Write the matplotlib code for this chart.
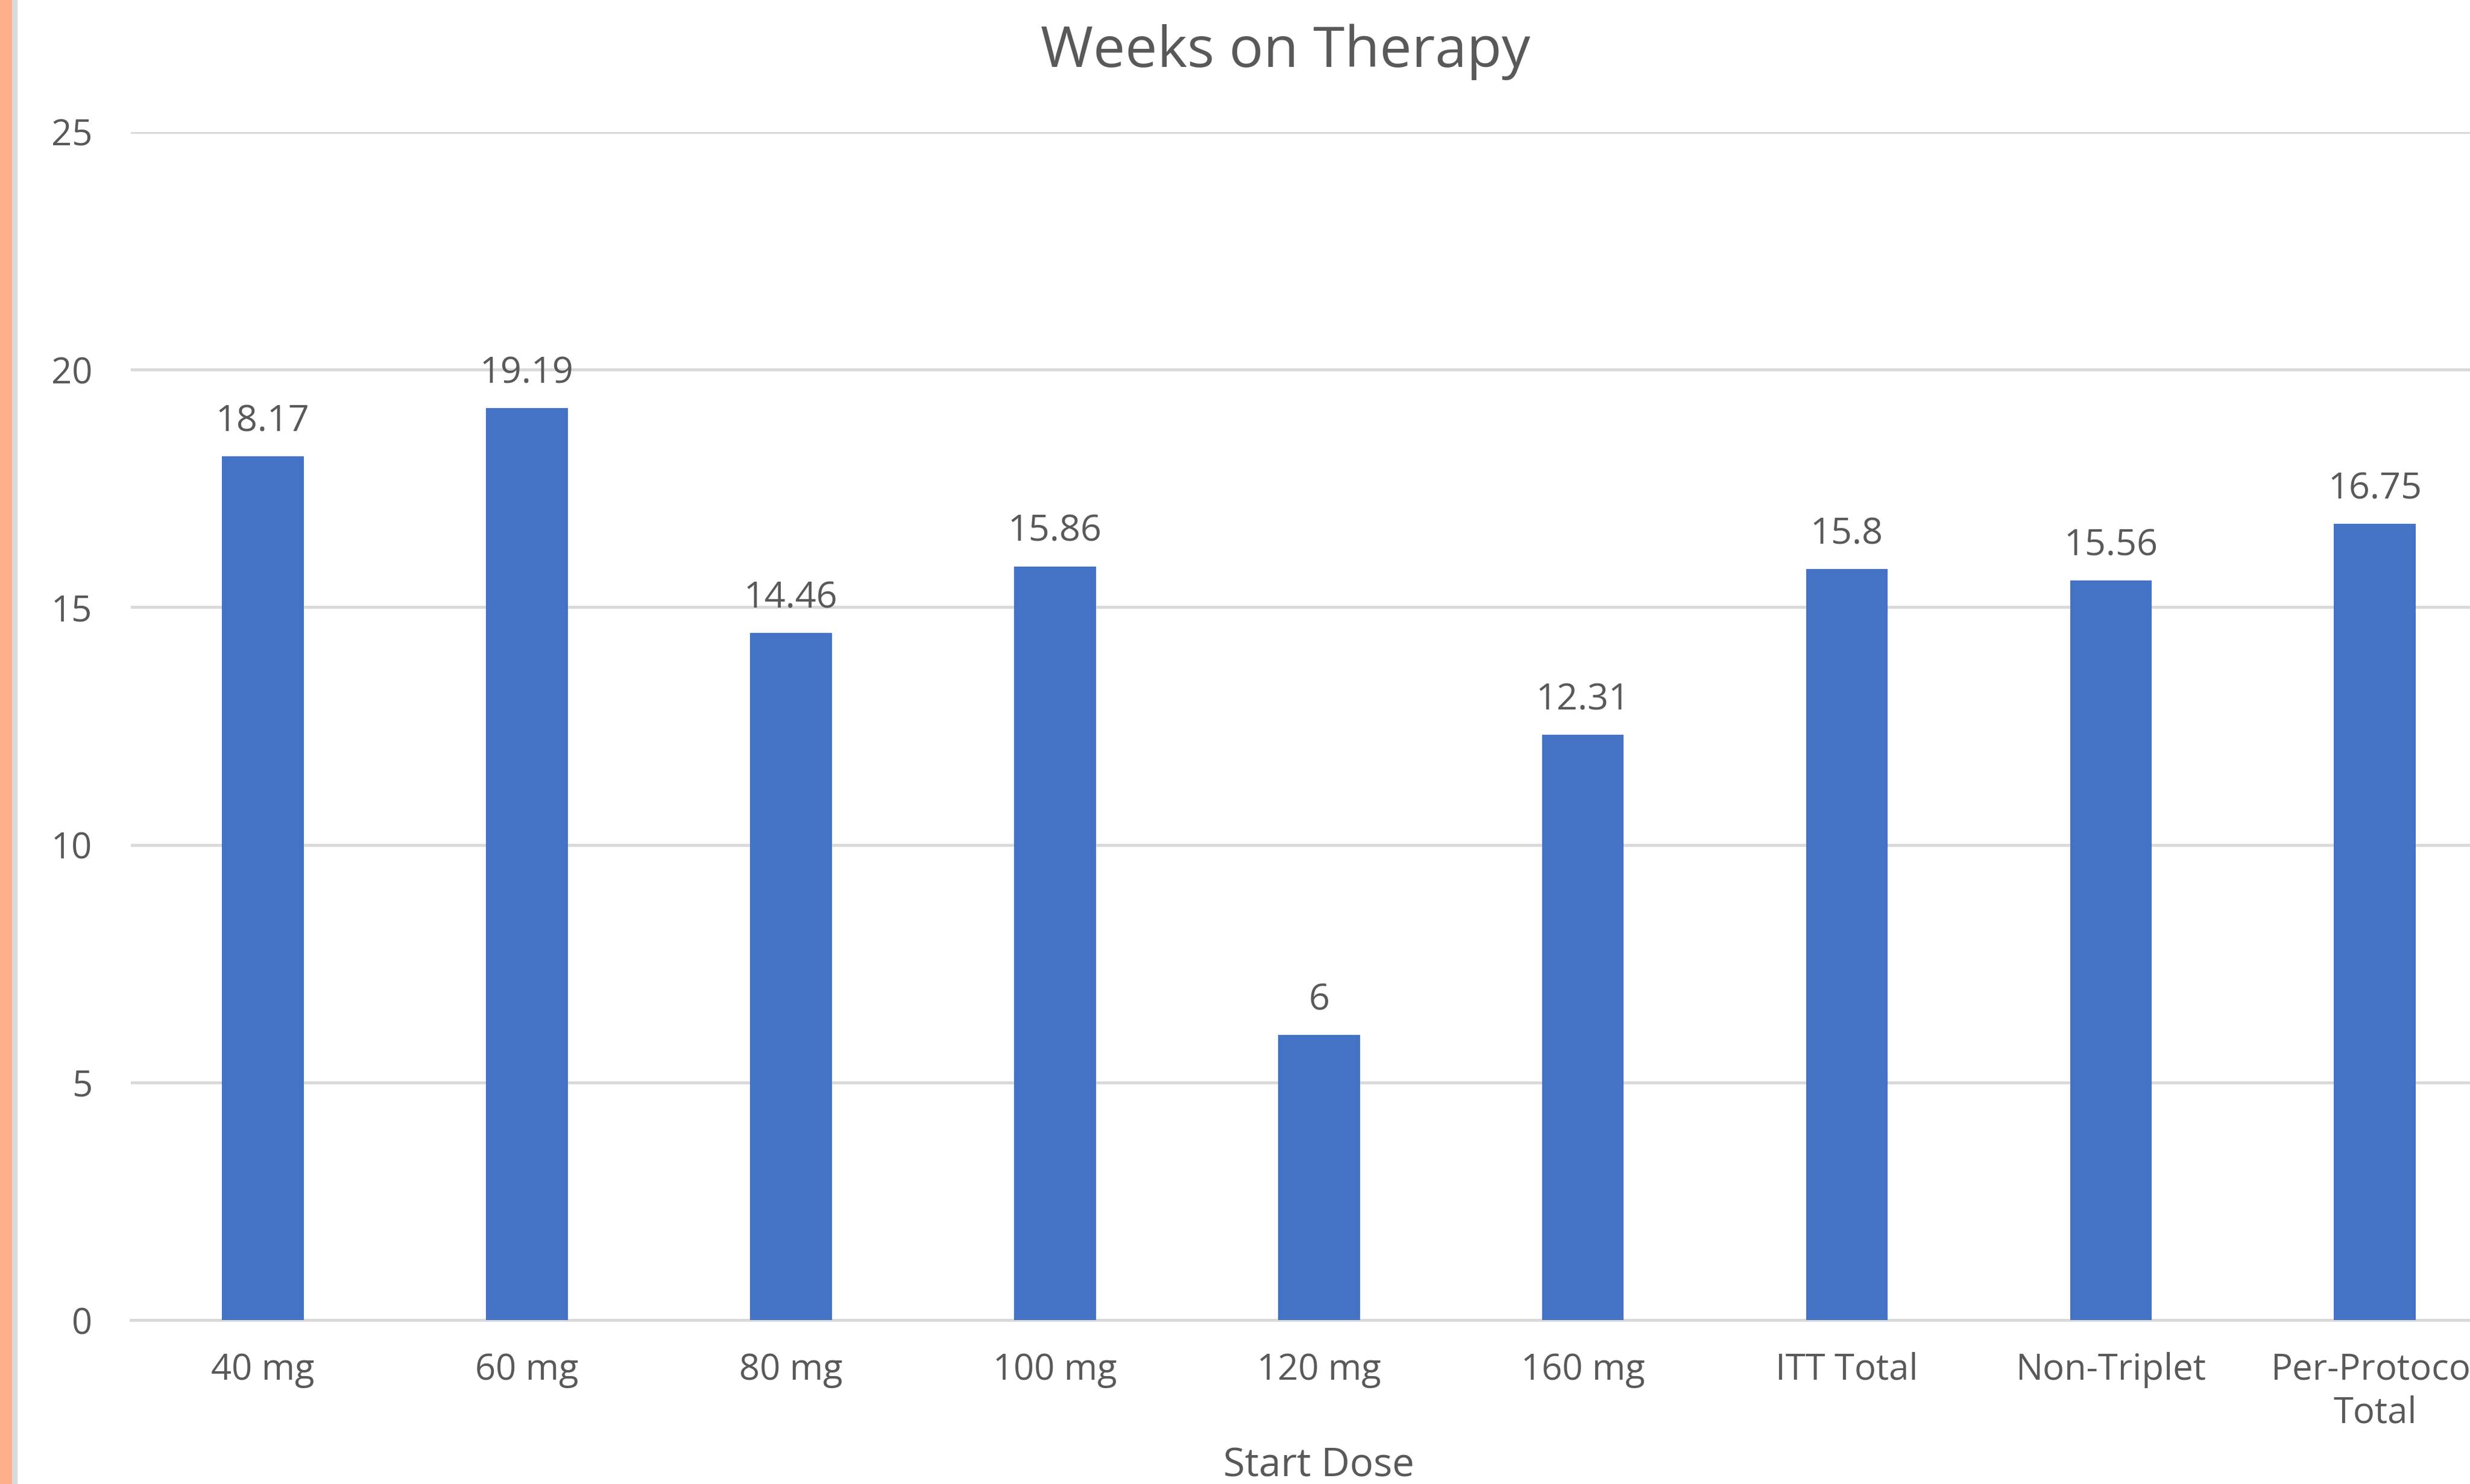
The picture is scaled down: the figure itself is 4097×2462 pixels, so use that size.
import matplotlib.pyplot as plt
import matplotlib.transforms as mtransforms

categories = ["40 mg", "60 mg", "80 mg", "100 mg", "120 mg", "160 mg",
              "ITT Total", "Non-Triplet", "Per-Protocol\nTotal"]
weeks = [18.17, 19.19, 14.46, 15.86, 6, 12.31, 15.8, 15.56, 16.75]
value_labels = ["18.17", "19.19", "14.46", "15.86", "6", "12.31", "15.8", "15.56", "16.75"]
y_ticks = [0, 5, 10, 15, 20, 25]

text_color = "#595959"
bar_color = "#4472C4"
grid_color = "#D9D9D9"

plt.rcParams["font.family"] = ["Open Sans", "DejaVu Sans"]

fig = plt.figure(figsize=(40.97, 24.62), dpi=100)
fig.patches.append(plt.Rectangle((0, 0), 20 / 4097, 1, transform=fig.transFigure,
                                 color="#FFB08A", zorder=0))
fig.patches.append(plt.Rectangle((20 / 4097, 0), 8 / 4097, 1, transform=fig.transFigure,
                                 color="#DADADA", zorder=0))

# plot area runs off the right edge of the picture, like the reference crop
ax = fig.add_axes([217 / 4097, 1 - 2190 / 2462, 1 - 217 / 4097, (2190 - 219) / 2462])
x = list(range(len(categories)))
bars = ax.bar(x, weeks, width=0.31, color=bar_color, zorder=3)

ax.set_xlim(-0.5, 8.36)
ax.set_ylim(0, 25)
ax.set_yticks(y_ticks)
ax.set_xticks(x)
ax.set_xticklabels(categories, linespacing=1.25)
ax.grid(axis="y", color=grid_color, linewidth=3.5, zorder=0)
ax.tick_params(axis="both", length=0, labelsize=43, colors=text_color)
ax.tick_params(axis="y", pad=46)
ax.tick_params(axis="x", pad=38)
for s in ["top", "right", "left"]:
    ax.spines[s].set_visible(False)
ax.spines["bottom"].set_color(grid_color)
ax.spines["bottom"].set_linewidth(3.5)

for rect, lab in zip(bars, value_labels):
    ax.annotate(lab, (rect.get_x() + rect.get_width() / 2, rect.get_height()),
                xytext=(0, 20), textcoords="offset points", ha="center", va="bottom",
                fontsize=44, color=text_color)

trans = mtransforms.blended_transform_factory(ax.transData, fig.transFigure)
ax.text(4, 1 - 2433 / 2462, "Start Dose", transform=trans, ha="center", va="center",
        fontsize=47, color=text_color)

fig.text(2132 / 4097, 1 - 86 / 2462, "Weeks on Therapy", ha="center", va="center",
         fontsize=68, color=text_color)

fig.savefig("out.png", dpi=100)
